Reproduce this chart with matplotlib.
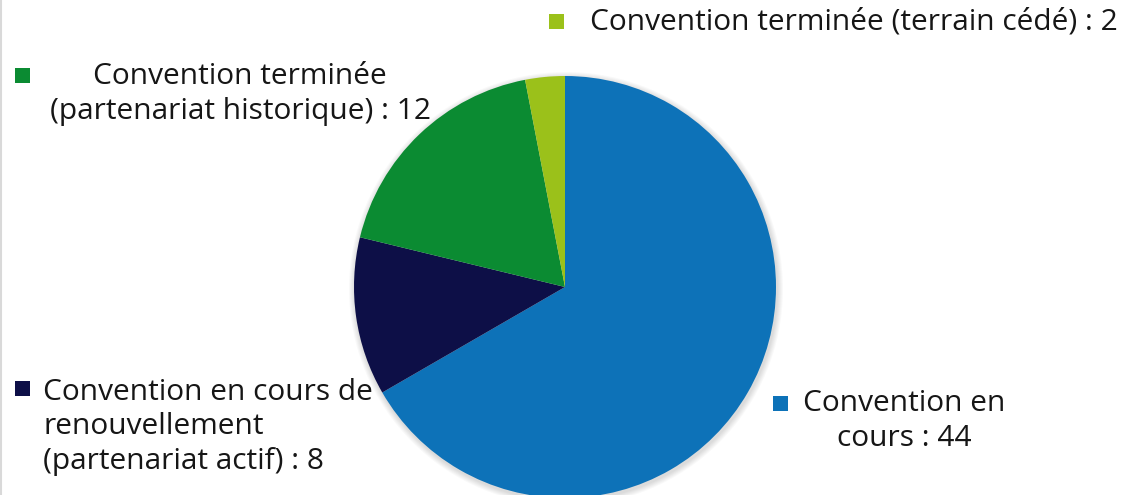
import matplotlib.pyplot as plt
from matplotlib.patches import Circle, Rectangle

# data
labels = [
    'Convention en\ncours : 44',
    'Convention en cours de\nrenouvellement\n(partenariat actif) : 8',
    'Convention terminée\n(partenariat historique) : 12',
    'Convention terminée (terrain cédé) : 2',
]
values = [44, 8, 12, 2]
colors = ['#0d72b8', '#0d0f47', '#0b8b32', '#9bc11a']

W, H = 1128, 495
plt.rcParams['font.family'] = ['Open Sans', 'DejaVu Sans']

fig = plt.figure(figsize=(W / 100, H / 100), dpi=100)
ax = fig.add_axes([0, 0, 1, 1])

cx, cy, r = 565, H - 287, 211

# soft shadow around the pie
for i in range(6):
    ax.add_patch(Circle((cx + 1, cy - 2), r + 1 + i, color='black',
                        alpha=0.025, lw=0, zorder=0))

ax.pie(values, colors=colors, startangle=90, counterclock=False,
       center=(cx, cy), radius=r, frame=True,
       wedgeprops={'linewidth': 0})
ax.set_xlim(0, W)
ax.set_ylim(0, H)
ax.set_aspect('equal')
ax.axis('off')

fs = 21.5
txt = {'fontsize': fs, 'color': '#161616', 'va': 'center', 'linespacing': 1.26}

# legend-like labels: (square x, square y, text x, text y, ha)
placements = [
    (780, 403, 904, 421, 'center'),
    (22, 388, 43, 427, 'left'),
    (22, 75, 240, 94, 'center'),
    (556, 21, 590, 22, 'left'),
]
for (sx, sy, tx, ty, ha), lab, col in zip(placements, labels, colors):
    ax.add_patch(Rectangle((sx - 7.5, H - sy - 7.5), 15, 15, color=col, lw=0))
    ax.text(tx, H - ty, lab, ha=ha, multialignment=ha, **txt)

# thin frame line at the left edge
ax.plot([1, 1], [0, H], color='#d9d9d9', lw=1.5)

fig.savefig('out.png', dpi=100)
